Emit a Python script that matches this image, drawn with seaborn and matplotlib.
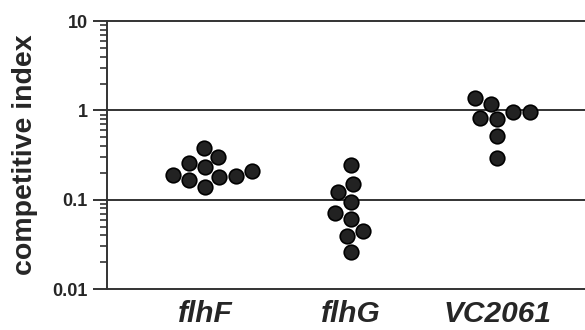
import matplotlib
matplotlib.use("Agg")
import matplotlib.pyplot as plt
import seaborn as sns
import pandas as pd
import numpy as np
from matplotlib.ticker import LogLocator, FixedLocator, NullFormatter

sns.set_style("white")
plt.rcParams['font.family'] = ['Liberation Sans', 'DejaVu Sans']

categories = ["flhF", "flhG", "VC2061"]
flhF = [0.18, 0.19, 0.38, 0.14, 0.23, 0.30, 0.185, 0.26, 0.165, 0.21]
flhG = [0.246, 0.151, 0.123, 0.095, 0.072, 0.061, 0.045, 0.039, 0.026]
vc2061 = [1.18, 1.38, 0.96, 0.97, 0.80, 0.83, 0.52, 0.295]
ytick_vals = [0.01, 0.1, 1, 10]
ytick_labels = ["0.01", "0.1", "1", "10"]

df = pd.DataFrame({
    "gene": ["flhF"] * len(flhF) + ["flhG"] * len(flhG) + ["VC2061"] * len(vc2061),
    "ci": flhF + flhG + vc2061,
})

fig = plt.figure(figsize=(5.85, 3.3), dpi=100)
ax = fig.add_axes([0.183, 0.124, 0.817, 0.812])
ax.set_yscale("log")
for v in [0.1, 1, 10]:
    ax.axhline(v, color="#333333", lw=1.4, zorder=0, clip_on=False)
sns.swarmplot(data=df, x="gene", y="ci", order=categories, ax=ax,
              size=10.5, color="#222222", edgecolor="#000000", linewidth=1.2,
              log_scale=True)
ax.set_ylim(0.01, 10)
ax.set_xlim(-0.67, 2.60)
ax.yaxis.set_major_locator(FixedLocator(ytick_vals))
ax.set_yticklabels(ytick_labels, fontsize=13, fontweight="bold")
ax.yaxis.set_minor_locator(LogLocator(base=10, subs=np.arange(2, 10)))
ax.yaxis.set_minor_formatter(NullFormatter())
ax.tick_params(axis="y", which="major", direction="out", length=10, width=1.4, color="#333333", pad=4, left=True)
ax.tick_params(axis="y", which="minor", direction="out", length=5, width=1.2, color="#333333", left=True)
ax.tick_params(axis="x", length=0, pad=8)
ax.set_xticks(range(len(categories)))
ax.set_xticklabels(categories, fontsize=21.5, fontweight="bold", fontstyle="italic")
ax.set_xlabel("")
ax.set_ylabel("competitive index", fontsize=20.5, fontweight="bold")
ax.yaxis.set_label_coords(-0.145, 0.5)
for s in ["top", "right"]:
    ax.spines[s].set_visible(False)
for s in ["left", "bottom"]:
    ax.spines[s].set_color("#333333")
    ax.spines[s].set_linewidth(1.4)
fig.savefig("out.png", dpi=100)
